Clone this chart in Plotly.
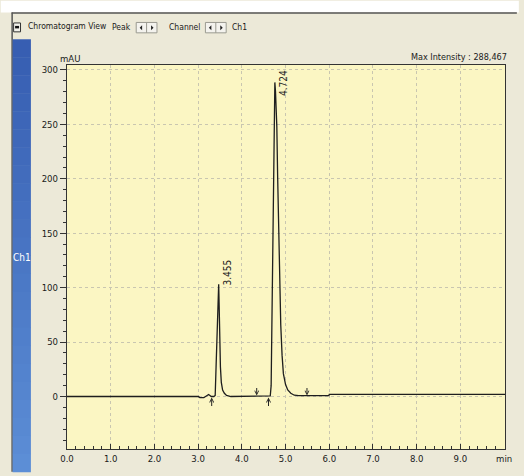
import plotly.graph_objects as go

# ---------------- data ----------------
time_min = [0.00, 3.00, 3.04, 3.08, 3.13, 3.17, 3.20, 3.24, 3.27, 3.30, 3.36, 3.39,
            3.41, 3.44, 3.46, 3.47, 3.48, 3.49, 3.51, 3.53, 3.56, 3.60, 3.65, 3.75,
            4.30, 4.62, 4.65, 4.67, 4.69, 4.72, 4.74, 4.755, 4.77, 4.80, 4.82, 4.84,
            4.865, 4.89, 4.92, 4.95, 5.00, 5.05, 5.12, 5.20, 5.30, 5.99, 6.00, 10.02]
intensity_mau = [0.0, 0.0, -1.0, -1.2, -1.0, 0.0, 1.0, 1.8, 1.0, 0.0, 0.0, 1.0,
                 27, 73, 100, 103, 85, 62, 27, 13, 6, 3, 1, 0.0,
                 0.0, 0.0, 0.5, 10, 66, 157, 248, 288.5, 280, 248, 200, 157,
                 110, 66, 38, 21, 11, 6, 3, 1.2, 0.8, 0.8, 2.0, 2.0]

peak_times = [3.47, 4.755]
peak_heights = [103, 288.5]
peak_labels = ["3.455", "4.724"]

marker_up_times = [3.31, 4.61]      # peak start marks (arrow pointing up)
marker_down_times = [4.34, 5.49]    # peak end marks (arrow pointing down)

y_tick_vals = [0, 50, 100, 150, 200, 250, 300]
x_tick_vals = [0, 1, 2, 3, 4, 5, 6, 7, 8, 9, 10]
x_tick_text = ["0.0", "1.0", "2.0", "3.0", "4.0", "5.0", "6.0", "7.0", "8.0", "9.0", "min"]

max_intensity_text = "Max Intensity : 288,467"

# ---------------- figure ----------------
W, H = 524, 476
L, R, T, B = 67, 14, 65, 23
PW, PH = W - L - R, H - T - B

def px(x):
    return (x - L) / PW

def py(y):
    return (H - B - y) / PH

FONT = "DejaVu Sans Condensed, Liberation Sans, sans-serif"

fig = go.Figure()
fig.add_trace(go.Scatter(
    x=time_min, y=intensity_mau, mode="lines",
    line=dict(color="#1e1e1e", width=1.3), hoverinfo="skip", showlegend=False,
))

shapes = []
# white strip at the very top
shapes.append(dict(type="rect", xref="paper", yref="paper", x0=px(0), x1=px(W), y0=py(12), y1=py(0),
                   fillcolor="#FFFFFF", line=dict(width=0), layer="below"))
# window border lines
shapes.append(dict(type="line", xref="paper", yref="paper", x0=px(11), x1=px(522), y0=py(12.5), y1=py(12.5),
                   line=dict(color="#555555", width=1.5)))
shapes.append(dict(type="line", xref="paper", yref="paper", x0=px(11.5), x1=px(11.5), y0=py(12), y1=py(H),
                   line=dict(color="#555555", width=1.5)))
# blue channel strip (banded gradient)
n_bands = 24
top_c = (0x37, 0x5E, 0xB2)
bot_c = (0x5C, 0x8E, 0xD6)
y_start, y_end = 39, H
for i in range(n_bands):
    f = i / (n_bands - 1)
    c = tuple(int(top_c[k] + (bot_c[k] - top_c[k]) * f) for k in range(3))
    ya = y_start + (y_end - y_start) * i / n_bands
    yb = y_start + (y_end - y_start) * (i + 1) / n_bands + 0.5
    shapes.append(dict(type="rect", xref="paper", yref="paper", x0=px(12), x1=px(30.5),
                       y0=py(yb), y1=py(ya), fillcolor="rgb(%d,%d,%d)" % c, line=dict(width=0)))
# header icon
shapes.append(dict(type="rect", xref="paper", yref="paper", x0=px(13), x1=px(20), y0=py(31.5), y1=py(22.5),
                   fillcolor="#F2F1EA", line=dict(color="#333333", width=1)))
shapes.append(dict(type="rect", xref="paper", yref="paper", x0=px(14.5), x1=px(18.5), y0=py(28), y1=py(25.5),
                   fillcolor="#111111", line=dict(width=0)))
# arrow buttons
for bx in (137, 207):
    shapes.append(dict(type="rect", xref="paper", yref="paper", x0=px(bx), x1=px(bx + 21), y0=py(32.5), y1=py(22),
                       fillcolor="#F4F3EE", line=dict(color="#9a9a90", width=1)))
    shapes.append(dict(type="line", xref="paper", yref="paper", x0=px(bx + 10.5), x1=px(bx + 10.5), y0=py(32.5), y1=py(22),
                       line=dict(color="#9a9a90", width=1)))
    cy = 27.3
    shapes.append(dict(type="path", xref="paper", yref="paper",
                       path="M %f %f L %f %f L %f %f Z" % (px(bx + 3.5), py(cy), px(bx + 6), py(cy - 2.5), px(bx + 6), py(cy + 2.5)),
                       fillcolor="#222222", line=dict(width=0)))
    shapes.append(dict(type="path", xref="paper", yref="paper",
                       path="M %f %f L %f %f L %f %f Z" % (px(bx + 17.5), py(cy), px(bx + 15), py(cy - 2.5), px(bx + 15), py(cy + 2.5)),
                       fillcolor="#222222", line=dict(width=0)))

annotations = []
def header_text(x, y, text, size=8.5, anchor="left", color="#1a1a1a"):
    annotations.append(dict(xref="paper", yref="paper", x=px(x), y=py(y), text=text, showarrow=False,
                            xanchor=anchor, yanchor="middle", font=dict(family=FONT, size=size, color=color)))

header_text(26, 26, "Chromatogram View")
header_text(134, 26.5, "Peak", anchor="right")
header_text(204, 26.5, "Channel", anchor="right")
header_text(232, 26.5, "Ch1")
header_text(514, 57, max_intensity_text, size=9, anchor="right")
header_text(70, 58.5, "mAU", size=9.5, anchor="center")
header_text(21.5, 259, "Ch1", size=10, anchor="center", color="#FFFFFF")

# peak labels
for t, h, lab in zip(peak_times, peak_heights, peak_labels):
    if h > 250:
        annotations.append(dict(x=t, y=302, text=lab, showarrow=False, textangle=-90,
                                xanchor="left", yanchor="top", xshift=1,
                                font=dict(family=FONT, size=10, color="#1a1a1a")))
    else:
        annotations.append(dict(x=t, y=h, text=lab, showarrow=False, textangle=-90,
                                xanchor="left", yanchor="bottom", xshift=1, yshift=-3,
                                font=dict(family=FONT, size=10, color="#1a1a1a")))

# baseline markers
for t in marker_up_times:
    annotations.append(dict(x=t, y=0, ax=0, ay=11, axref="pixel", ayref="pixel", text="", showarrow=True,
                            arrowhead=5, arrowsize=0.8, arrowwidth=1, arrowcolor="#222222", standoff=1))
for t in marker_down_times:
    annotations.append(dict(x=t, y=0, ax=0, ay=-10, axref="pixel", ayref="pixel", text="", showarrow=True,
                            arrowhead=5, arrowsize=0.8, arrowwidth=1, arrowcolor="#222222", standoff=1))

fig.update_layout(
    width=W, height=H,
    margin=dict(l=L, r=R, t=T, b=B, pad=0),
    paper_bgcolor="#ECE9D8",
    plot_bgcolor="#FBF6C3",
    shapes=shapes,
    annotations=annotations,
    showlegend=False,
    font=dict(family=FONT, size=9.5, color="#1a1a1a"),
)
fig.update_xaxes(
    range=[0, 10.02], tickvals=x_tick_vals, ticktext=x_tick_text,
    ticks="inside", ticklen=5, tickcolor="#333333", tickwidth=1,
    minor=dict(dtick=0.2, tick0=0, ticks="inside", ticklen=3, tickcolor="#333333", showgrid=False),
    showgrid=True, gridcolor="#C9C6B0", griddash="3px,3px", gridwidth=1,
    showline=True, linecolor="#333333", linewidth=1.2, mirror=True,
    zeroline=False, tickfont=dict(family=FONT, size=9.5, color="#1a1a1a"),
)
fig.update_yaxes(
    range=[-48.2, 304.5], tickvals=y_tick_vals,
    ticks="outside", ticklen=6, tickcolor="#333333", tickwidth=1,
    minor=dict(dtick=10, tick0=0, ticks="outside", ticklen=3, tickcolor="#333333", showgrid=False),
    showgrid=True, gridcolor="#C9C6B0", griddash="3px,3px", gridwidth=1,
    showline=True, linecolor="#333333", linewidth=1.2, mirror=True,
    zeroline=False, tickfont=dict(family=FONT, size=9.5, color="#1a1a1a"),
)

fig.write_html("out.html", config={"displayModeBar": False},
               post_script="document.body.style.margin='0px';")
